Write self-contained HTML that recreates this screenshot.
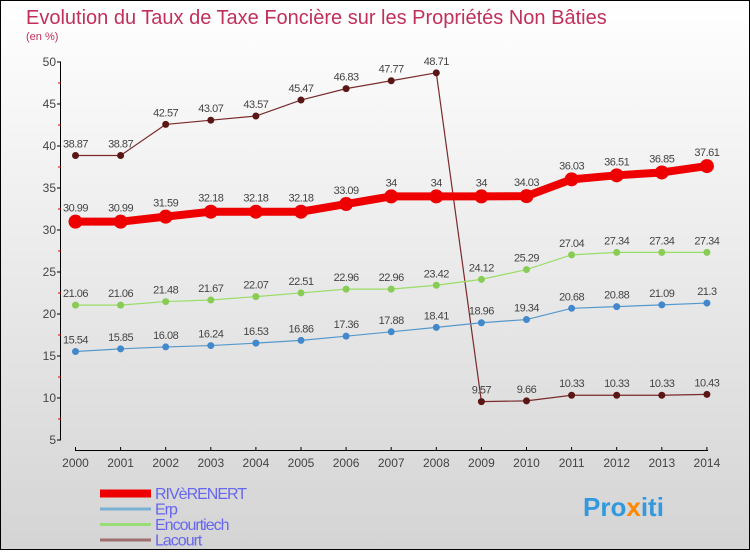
<!DOCTYPE html>
<html><head><meta charset="utf-8"><style>
body{margin:0}
#c{width:750px;height:550px;position:relative;font-family:"Liberation Sans",sans-serif;}
</style></head><body>
<div id="c">
<svg id="s" width="750" height="550" xmlns="http://www.w3.org/2000/svg">
<defs><linearGradient id="bg" x1="0" y1="0" x2="0" y2="1"><stop offset="0" stop-color="#ffffff"/><stop offset="1" stop-color="#d4d4d4"/></linearGradient></defs>
<rect x="0.5" y="0.5" width="749" height="549" fill="url(#bg)" stroke="#000"/>
<text x="26" y="24" font-size="20" fill="#c0305a">Evolution du Taux de Taxe Foncière sur les Propriétés Non Bâties</text>
<text x="26" y="40" font-size="11" fill="#c0305a">(en %)</text>
<g id="axes"></g><g id="series"></g><g id="legend"></g>
<text x="583" y="516" font-size="26" font-weight="bold" fill="#3399dd">Pro<tspan fill="#ff8800">x</tspan>iti</text>
</svg></div>
<script>
const years=[2000,2001,2002,2003,2004,2005,2006,2007,2008,2009,2010,2011,2012,2013,2014];
const yTicks=[5,10,15,20,25,30,35,40,45,50];
const riverenert=[30.99,30.99,31.59,32.18,32.18,32.18,33.09,34,34,34,34.03,36.03,36.51,36.85,37.61];
const erp=[15.54,15.85,16.08,16.24,16.53,16.86,17.36,17.88,18.41,18.96,19.34,20.68,20.88,21.09,21.3];
const encourtiech=[21.06,21.06,21.48,21.67,22.07,22.51,22.96,22.96,23.42,24.12,25.29,27.04,27.34,27.34,27.34];
const lacourt=[38.87,38.87,42.57,43.07,43.57,45.47,46.83,47.77,48.71,9.57,9.66,10.33,10.33,10.33,10.43];
const seriesNames=["RIVèRENERT","Erp","Encourtiech","Lacourt"];
const NS="http://www.w3.org/2000/svg";
const X=i=>75.5+i*45.1;
const Y=v=>440-(v-5)*8.4;
function mk(t,a,p){const e=document.createElementNS(NS,t);for(const k in a)e.setAttribute(k,a[k]);p.appendChild(e);return e;}
const ax=document.getElementById('axes');
let l=mk('line',{x1:60.5,y1:Y(50),x2:60.5,y2:Y(5),stroke:'#000'},ax);


yTicks.forEach(v=>{
 mk('line',{x1:57,x2:61,y1:Y(v),y2:Y(v),stroke:'#000'},ax);
 if(v<50)mk('line',{x1:58,x2:61,y1:Y(v+2.5),y2:Y(v+2.5),stroke:'#d00'},ax);
 const t=mk('text',{x:56,y:Y(v)+4,'font-size':12,'text-anchor':'end',fill:'#444'},ax);t.textContent=v;
 
 
});
l=mk('line',{x1:75,y1:450.5,x2:708,y2:450.5,stroke:'#000'},ax);


years.forEach((y,i)=>{
 mk('line',{x1:X(i),x2:X(i),y1:447,y2:451,stroke:'#000'},ax);
 const t=mk('text',{x:X(i),y:467,'font-size':12,'text-anchor':'middle',fill:'#444'},ax);t.textContent=y;
 
 
});
const sg=document.getElementById('series');
function draw(data,name,color,w,r,dot,lab){
 const g=mk('g',{},sg);
 
 
 mk('polyline',{points:data.map((v,i)=>X(i)+','+Y(v)).join(' '),fill:'none',stroke:color,'stroke-width':w,'stroke-linejoin':'round'},g);
 data.forEach((v,i)=>{
  const c=mk('circle',{cx:X(i),cy:Y(v),r:r,fill:dot},g);
  
  
  const t=mk('text',{x:X(i),y:Y(v)-lab,'font-size':11,'text-anchor':'middle',fill:'#444','letter-spacing':'-0.5'},g);t.textContent=v;
  
  
 });
}
draw(lacourt,'lacourt','#7a2a2a',1.2,3.5,'#5a1515',8);
draw(encourtiech,'encourtiech','#99dd66',1.2,3.5,'#88cc55',8);
draw(erp,'erp','#5599cc',1.2,3.5,'#4488cc',8);
draw(riverenert,'riverenert','#ee0000',8,7,'#ee0000',10);
const lg=document.getElementById('legend');
const lc=['#ee0000','#7ab0d0','#99dd77','#a07070'],lw=[8,3,3,3];
seriesNames.forEach((n,i)=>{
 const y=493+i*15.5;
 const g=mk('g',{},lg);
 
 
 mk('line',{x1:100,x2:151,y1:y+0.5,y2:y+0.5,stroke:lc[i],'stroke-width':lw[i]},g);
 const t=mk('text',{x:155,y:y+6,'font-size':16,fill:'#6666ee','letter-spacing':'-1'},g);t.textContent=n;
});
</script>
</body></html>
